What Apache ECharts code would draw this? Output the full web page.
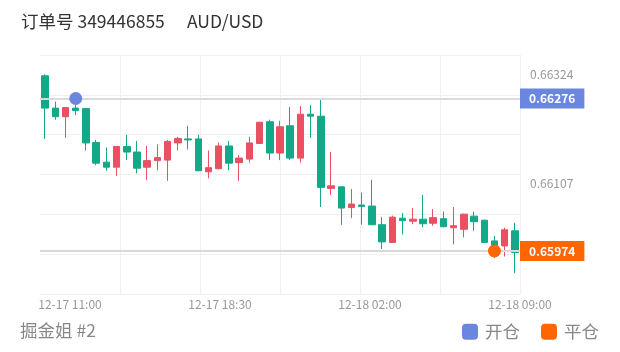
<!DOCTYPE html>
<html><head><meta charset="utf-8">
<script src="https://cdn.jsdelivr.net/npm/echarts@6/dist/echarts.min.js"></script>
<style>html,body{margin:0;padding:0;background:#fff}#c{width:620px;height:352px}</style>
</head><body><div id="c"></div>
<script>
const opens  = [0.66321,0.66257,0.66240,0.66257,0.66256,0.66189,0.66150,0.66140,0.66181,0.66170,0.66140,0.66153,0.66154,0.66188,0.66196,0.66196,0.66131,0.66137,0.66182,0.66149,0.66156,0.66187,0.66230,0.66168,0.66222,0.66158,0.66245,0.66241,0.66098,0.66101,0.66060,0.66065,0.66063,0.66026,0.65991,0.66039,0.66033,0.66037,0.66029,0.66038,0.66020,0.66017,0.66043,0.66035,0.65994,0.65984,0.66014];
const closes = [0.66257,0.66240,0.66258,0.66252,0.66188,0.66148,0.66140,0.66181,0.66170,0.66138,0.66153,0.66159,0.66191,0.66197,0.66194,0.66133,0.66139,0.66182,0.66148,0.66158,0.66188,0.66229,0.66168,0.66220,0.66158,0.66245,0.66241,0.66100,0.66103,0.66059,0.66067,0.66062,0.66026,0.65992,0.66041,0.66034,0.66037,0.66028,0.66040,0.66022,0.66024,0.66047,0.66032,0.65991,0.65985,0.66016,0.65971];
const lows   = [0.66196,0.66234,0.66198,0.66243,0.66173,0.66144,0.66133,0.66123,0.66154,0.66128,0.66115,0.66134,0.66113,0.66173,0.66175,0.66132,0.66118,0.66136,0.66134,0.66113,0.66149,0.66186,0.66154,0.66154,0.66154,0.66149,0.66198,0.66061,0.66085,0.66026,0.66039,0.66026,0.66025,0.65978,0.65990,0.66007,0.66027,0.66021,0.66024,0.66021,0.65987,0.66001,0.66014,0.65990,0.65960,0.65963,0.65930];
const highs  = [0.66324,0.66270,0.66259,0.66263,0.66257,0.66194,0.66179,0.66182,0.66204,0.66192,0.66182,0.66185,0.66194,0.66200,0.66222,0.66204,0.66173,0.66189,0.66192,0.66164,0.66200,0.66230,0.66234,0.66232,0.66259,0.66261,0.66263,0.66275,0.66170,0.66102,0.66097,0.66090,0.66115,0.66041,0.66044,0.66049,0.66059,0.66085,0.66057,0.66052,0.66061,0.66048,0.66052,0.66036,0.66004,0.66020,0.66030];
const xTickLabels = ['12-17 11:00','12-17 18:30','12-18 02:00','12-18 09:00'];
const refLevels = [0.66324, 0.66107];
const openTrade = {index: 3, price: 0.66276};
const closeTrade = {index: 44, price: 0.65974};
const titleText = '订单号 349446855';
const symbolText = 'AUD/USD';
const footerText = '掘金姐 #2';
const legendNames = ['开仓', '平仓'];

const FONT = '"Noto Sans CJK SC","Noto Sans",sans-serif';
const UP = '#ea5062', DOWN = '#13a888', BLUE = '#6a86de', ORANGE = '#ff6600';
const categories = opens.map((_, i) => String(i));
const candleData = opens.map((o, i) => [o, closes[i], lows[i], highs[i]]);

const chart = echarts.init(document.getElementById('c'), null, {renderer: 'canvas'});
const noAxis = {axisLine: {show: false}, axisTick: {show: false}, axisLabel: {show: false}, splitLine: {show: false}};
const gridLine = {show: true, lineStyle: {color: '#f0f0f0', width: 1}};
const bigText = {fontSize: 17.5, fontWeight: 'normal', fontFamily: FONT};

chart.setOption({
  animation: false,
  textStyle: {fontFamily: FONT},
  title: [
    {text: titleText, left: 21, top: 13, padding: 0, textStyle: Object.assign({color: '#333'}, bigText)},
    {text: symbolText, left: 187, top: 13, padding: 0, textStyle: Object.assign({color: '#333'}, bigText)},
    {text: footerText, left: 20, top: 322, padding: 0, textStyle: Object.assign({color: '#888'}, bigText)}
  ],
  legend: {
    data: legendNames, right: 21, top: 323, padding: 0, icon: 'roundRect',
    itemWidth: 16, itemHeight: 16, itemGap: 21,
    itemStyle: {opacity: 1},
    textStyle: Object.assign({color: '#888', padding: [0, 0, 0, 2]}, bigText)
  },
  grid: [
    {left: 40, right: 100, top: 55, height: 239},
    {left: 70, right: 100, top: 293, height: 1}
  ],
  xAxis: [
    Object.assign({type: 'category', gridIndex: 0, data: categories, boundaryGap: true}, noAxis),
    Object.assign({type: 'value', gridIndex: 0, min: 0, max: 6, interval: 1}, noAxis, {splitLine: Object.assign({showMinLine: false}, gridLine)}),
    Object.assign({type: 'value', gridIndex: 1, min: 0, max: xTickLabels.length - 1, interval: 1}, noAxis,
      {axisLabel: {show: true, formatter: v => xTickLabels[v] || '', color: '#999', fontSize: 12, margin: 4, fontFamily: FONT}})
  ],
  yAxis: [
    Object.assign({type: 'value', gridIndex: 0, min: 0.658888, max: 0.663622, scale: true}, noAxis),
    Object.assign({type: 'value', gridIndex: 0, min: 0, max: 6, interval: 1}, noAxis, {splitLine: gridLine}),
    Object.assign({type: 'value', gridIndex: 1, min: 0, max: 1}, noAxis)
  ],
  series: [
    {
      type: 'candlestick', xAxisIndex: 0, yAxisIndex: 0, data: candleData, barWidth: 7,
      itemStyle: {color: UP, color0: DOWN, borderColor: UP, borderColor0: DOWN, borderWidth: 1},
      markLine: {
        silent: true, symbol: ['none', 'none'], animation: false, precision: 5,
        label: {position: 'end', fontSize: 12, fontFamily: FONT, formatter: p => Number(p.value).toFixed(5)},
        data: [
          ...refLevels.map(v => ({yAxis: v, lineStyle: {color: 'rgba(0,0,0,0)', width: 0},
            label: {show: true, color: '#999', distance: 10}})),
          {yAxis: openTrade.price, lineStyle: {color: '#dadada', width: 2, type: 'solid'},
           label: {color: '#fff', fontWeight: 'bold', backgroundColor: BLUE, padding: [4, 9, 4, 9], distance: 0}},
          {yAxis: closeTrade.price, lineStyle: {color: '#dadada', width: 2, type: 'solid'},
           label: {color: '#fff', fontWeight: 'bold', backgroundColor: ORANGE, padding: [4, 9, 4, 9], distance: 0}}
        ]
      }
    },
    {name: legendNames[0], type: 'scatter', xAxisIndex: 0, yAxisIndex: 0, z: 5, symbolSize: 13,
     itemStyle: {color: BLUE, opacity: 1}, data: [[openTrade.index, openTrade.price]]},
    {name: legendNames[1], type: 'scatter', xAxisIndex: 0, yAxisIndex: 0, z: 5, symbolSize: 13,
     itemStyle: {color: ORANGE, opacity: 1}, data: [[closeTrade.index, closeTrade.price]]}
  ]
});
</script>
</body></html>
